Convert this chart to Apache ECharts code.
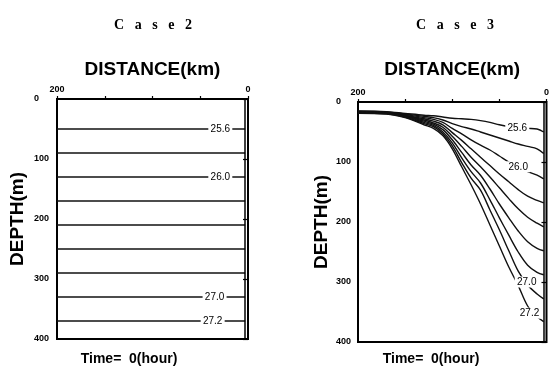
<!DOCTYPE html>
<html>
<head>
<meta charset="utf-8">
<script src="https://cdn.jsdelivr.net/npm/echarts@6/dist/echarts.min.js"></script>
<style>
  html, body { margin: 0; padding: 0; background: #fff; }
  #chart { width: 552px; height: 369px; }
</style>
</head>
<body>
<div id="chart"></div>
<script>
// sigma-t contour levels
const levels = ['25.6', '25.8', '26.0', '26.2', '26.4', '26.6', '26.8', '27.0', '27.2']

// Case 2: flat isopycnals, depth (m) of each level
const case2Depth = [50, 90, 130, 170, 210, 250, 290, 330, 370]

// Case 3: depth (m) of each level at these distances (km)
const case3Km = [200, 170, 150, 130, 120, 110, 100, 90, 80, 70, 60, 50, 40, 30, 20, 10, 3]
const c3_256 = [15, 16, 19, 22, 23, 25, 27, 28, 29, 31, 34, 38, 41, 43, 44, 45, 50]
const c3_258 = [15.5, 16.5, 20, 24, 26, 30, 36, 41, 45, 50, 55, 60, 65, 70, 74, 78, 86]
const c3_260 = [16, 17, 21, 26, 29, 34, 44, 53, 63, 72, 80, 90, 100, 108, 116, 122, 128]
const c3_262 = [16.5, 17.5, 22, 28, 32, 38, 51, 64, 78, 92, 106, 120, 133, 146, 157, 164, 168]
const c3_264 = [17, 18, 23, 30, 35, 42, 57, 74, 92, 108, 125, 143, 161, 178, 192, 202, 208]
const c3_266 = [17.5, 18.5, 23.5, 32, 37, 46, 63, 84, 105, 122, 145, 170, 193, 215, 233, 244, 248]
const c3_268 = [18, 19, 24, 34, 39, 50, 68, 93, 116, 135, 163, 193, 222, 250, 272, 284, 288]
const c3_270 = [18.5, 19.5, 25, 36, 41, 53, 73, 101, 127, 147, 180, 213, 248, 282, 305, 320, 328]
const c3_272 = [19, 20, 26, 38, 44, 56, 78, 108, 138, 170, 205, 240, 275, 306, 340, 358, 366]
const case3Depth = [c3_256, c3_258, c3_260, c3_262, c3_264, c3_266, c3_268, c3_270, c3_272]

// inner wall near the coast (km)
const wallKm = 3

// contour labels: level index, distance (km), depth (m)
const case2LabelIdx = [0, 2, 7, 8]
const case2LabelKm = [29, 29, 35, 37]
const case3LabelIdx = [0, 2, 7, 8]
const case3LabelKm = [31, 30, 21, 18]
const case3LabelDepth = [43, 108, 300, 352]

const FONT = '"Liberation Sans", Arial, Helvetica, sans-serif'

const chart = echarts.init(document.getElementById('chart'))

function xAxisFor(gridIndex, nameGap) {
  return {
    gridIndex,
    type: 'value',
    min: 0,
    max: 200,
    interval: 50,
    inverse: true,
    position: 'top',
    name: 'DISTANCE(km)',
    nameLocation: 'middle',
    nameGap,
    nameTextStyle: { fontSize: 19, fontWeight: 'bold', color: '#000', fontFamily: FONT },
    axisLine: { show: false },
    axisTick: { show: true, length: 3, lineStyle: { color: '#000', width: 1.2 } },
    axisLabel: {
      margin: 5,
      fontSize: 9,
      fontWeight: 'bold',
      color: '#000',
      fontFamily: FONT,
      formatter: v => (v === 0 || v === 200) ? String(v) : ''
    },
    splitLine: { show: false }
  }
}

// y labels are left-aligned in the original, so the margin reaches past the widest label
function yAxisFor(gridIndex, nameGap, labelMargin) {
  return {
    gridIndex,
    type: 'value',
    min: 0,
    max: 400,
    interval: 100,
    inverse: true,
    name: 'DEPTH(m)',
    nameLocation: 'middle',
    nameRotate: 90,
    nameGap,
    nameTextStyle: { fontSize: 19, fontWeight: 'bold', color: '#000', fontFamily: FONT },
    axisLine: { show: false },
    axisTick: { show: true, length: 5, lineStyle: { color: '#000', width: 1.2 } },
    axisLabel: { margin: labelMargin, align: 'left', fontSize: 9, fontWeight: 'bold', color: '#000', fontFamily: FONT },
    splitLine: { show: false }
  }
}

function labelMarks(lv, km, depth) {
  return {
    symbol: 'rect',
    symbolSize: [24, 11],
    itemStyle: { color: '#fff' },
    label: { show: true, color: '#000', fontSize: 10, fontFamily: FONT, formatter: lv },
    data: [{ coord: [km, depth] }]
  }
}

const series = []

// Case 2 panel
levels.forEach((lv, i) => {
  const s = {
    type: 'line',
    xAxisIndex: 0,
    yAxisIndex: 0,
    data: [[200, case2Depth[i]], [wallKm, case2Depth[i]]],
    symbol: 'none',
    silent: true,
    lineStyle: { color: '#111', width: 1.4 }
  }
  const k = case2LabelIdx.indexOf(i)
  if (k >= 0) s.markPoint = labelMarks(lv, case2LabelKm[k], case2Depth[i])
  series.push(s)
})

// Case 3 panel
levels.forEach((lv, i) => {
  const s = {
    type: 'line',
    xAxisIndex: 1,
    yAxisIndex: 1,
    data: case3Km.map((km, j) => [km, case3Depth[i][j]]),
    symbol: 'none',
    smooth: 0.35,
    silent: true,
    lineStyle: { color: '#111', width: 1.4 }
  }
  const k = case3LabelIdx.indexOf(i)
  if (k >= 0) s.markPoint = labelMarks(lv, case3LabelKm[k], case3LabelDepth[k])
  series.push(s)
})

// inner wall lines
;[0, 1].forEach(g => {
  series.push({
    type: 'line',
    xAxisIndex: g,
    yAxisIndex: g,
    data: [],
    silent: true,
    markLine: {
      symbol: 'none',
      silent: true,
      label: { show: false },
      lineStyle: { color: '#000', width: 1.5, type: 'solid' },
      data: [{ xAxis: wallKm }]
    }
  })
})

const textStyle = (text, size, weight, family) => ({
  text,
  font: `${weight} ${size}px ${family}`,
  fill: '#000',
  textAlign: 'center',
  textVerticalAlign: 'middle'
})

chart.setOption({
  animation: false,
  backgroundColor: '#fff',
  grid: [
    { left: 57, top: 99, width: 191, height: 240, show: true, borderColor: '#000', borderWidth: 2, backgroundColor: 'transparent' },
    { left: 358, top: 102, width: 189, height: 240, show: true, borderColor: '#000', borderWidth: 2, backgroundColor: 'transparent' }
  ],
  xAxis: [xAxisFor(0, 20), xAxisFor(1, 23)],
  yAxis: [yAxisFor(0, 30, 23), yAxisFor(1, 27, 22)],
  series,
  graphic: [
    { type: 'text', x: 153, y: 25, style: textStyle('C   a   s   e   2', 14, 'bold', '"Liberation Serif", "Times New Roman", serif') },
    { type: 'text', x: 455, y: 25, style: textStyle('C   a   s   e   3', 14, 'bold', '"Liberation Serif", "Times New Roman", serif') },
    { type: 'text', x: 129, y: 359, style: textStyle('Time=  0(hour)', 14, 'bold', FONT) },
    { type: 'text', x: 431, y: 359, style: textStyle('Time=  0(hour)', 14, 'bold', FONT) }
  ]
})
</script>
</body>
</html>
